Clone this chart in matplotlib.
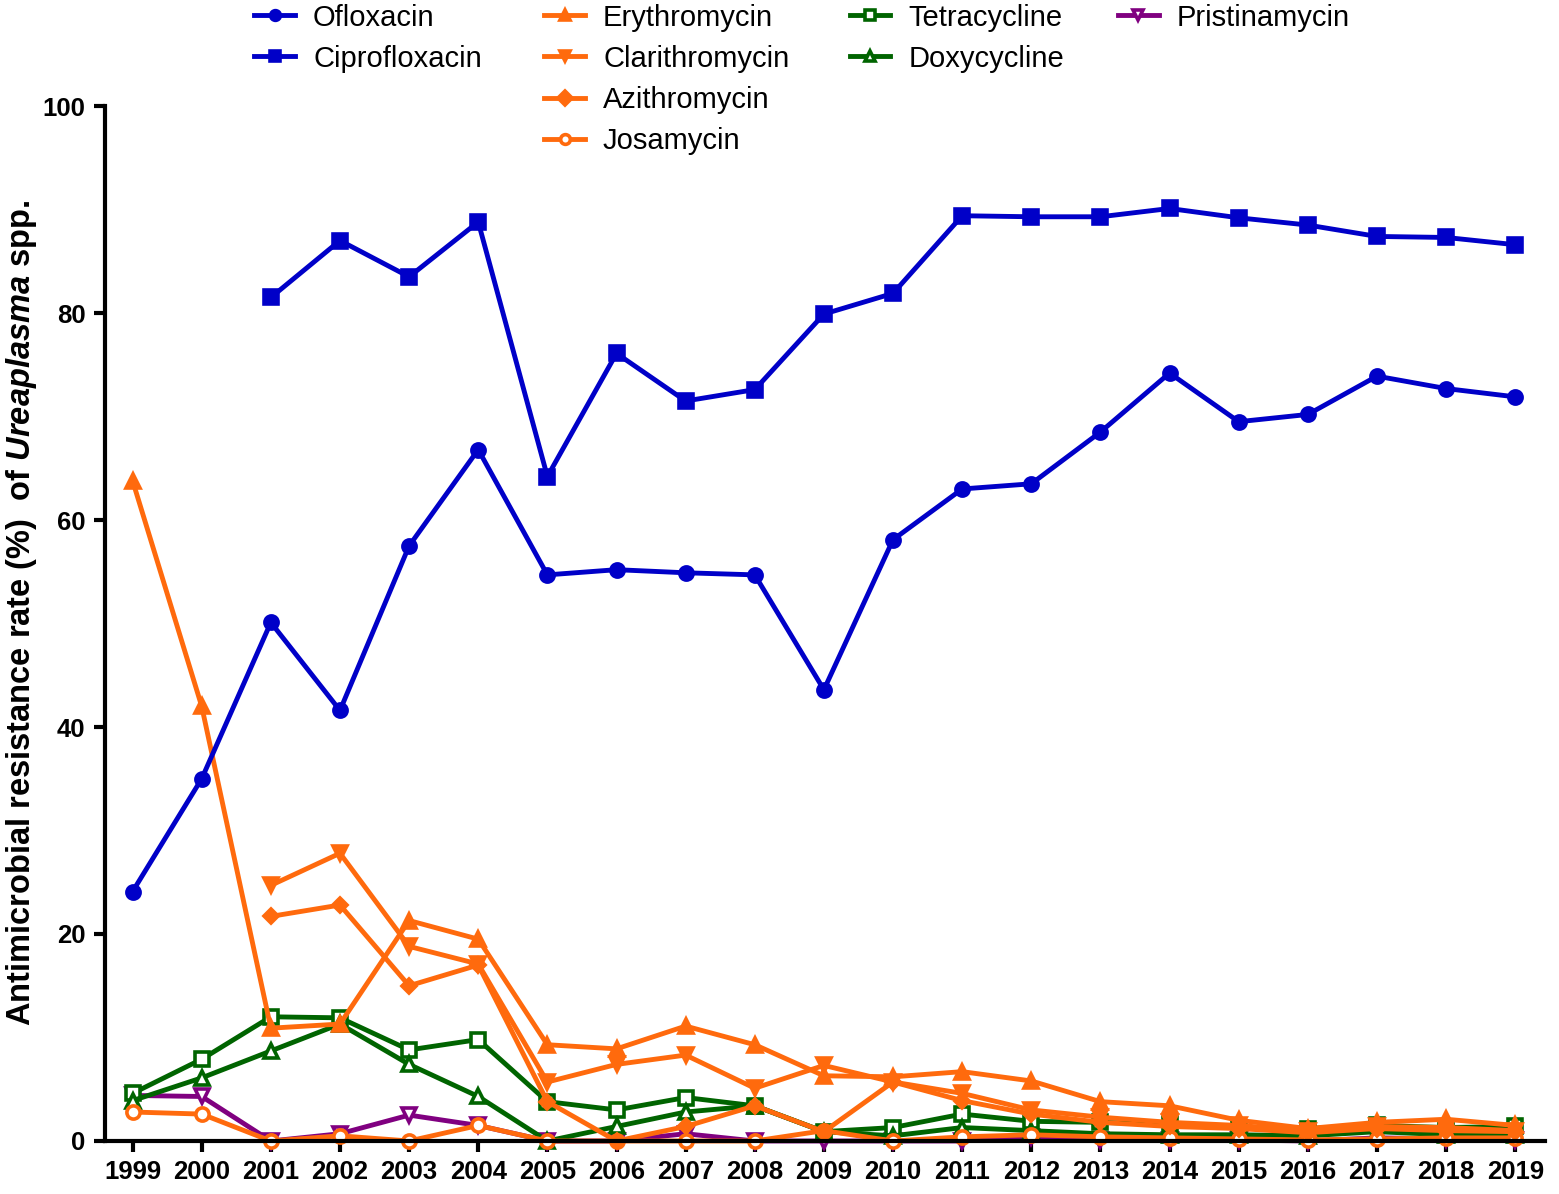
import matplotlib.pyplot as plt
import numpy as np

years = list(range(1999, 2020))

# Fluoroquinolones
ofloxacin = [24.1, 35.0, 50.1, 41.6, 57.5, 66.8, 54.7, 55.2, 54.9, 54.7, 43.6,
             58.1, 63.0, 63.5, 68.5, 74.2, 69.5, 70.2, 73.9, 72.7, 71.9]
ciprofloxacin = [np.nan, np.nan, 81.5, 87.0, 83.5, 88.8, 64.2, 76.1, 71.5, 72.6, 79.9,
                 81.9, 89.4, 89.3, 89.3, 90.1, 89.2, 88.5, 87.4, 87.3, 86.6]

# Macrolides
erythromycin = [63.8, 42.0, 10.9, 11.3, 21.3, 19.5, 9.3, 8.9, 11.1, 9.3, 6.3,
                6.2, 6.7, 5.8, 3.8, 3.4, 2.0, 1.2, 1.8, 2.1, 1.5]
clarithromycin = [np.nan, np.nan, 24.7, 27.8, 18.8, 17.1, 5.7, 7.4, 8.3, 5.1, 7.3,
                  5.7, 4.6, 3.0, 2.3, 1.8, 1.5, 1.0, 1.4, 1.3, 1.0]
azithromycin = [np.nan, np.nan, 21.7, 22.8, 15.0, 17.0, 3.8, 0.0, 1.4, 3.4, 0.9,
                5.7, 3.9, 2.6, 1.8, 1.4, 1.2, 0.8, 1.2, 1.0, 0.9]
josamycin = [2.8, 2.6, 0.0, 0.5, 0.0, 1.5, 0.0, 0.0, 0.0, 0.0, 1.0,
             0.0, 0.4, 0.6, 0.4, 0.3, 0.2, 0.1, 0.2, 0.3, 0.3]

# Tetracyclines
tetracycline = [4.6, 7.9, 12.0, 11.9, 8.8, 9.8, 3.8, 3.0, 4.2, 3.4, 0.9,
                1.3, 2.6, 1.9, 1.8, 1.6, 1.3, 1.2, 1.5, 1.3, 1.4]
doxycycline = [3.9, 6.1, 8.7, 11.3, 7.4, 4.3, 0.0, 1.4, 2.8, 3.4, 0.9,
               0.5, 1.3, 1.0, 0.7, 0.6, 0.6, 0.5, 0.9, 0.6, 0.6]

# Streptogramin
pristinamycin = [4.4, 4.3, 0.0, 0.7, 2.5, 1.5, 0.0, 0.0, 0.7, 0.0, 0.0,
                 0.0, 0.0, 0.4, 0.1, 0.1, 0.1, 0.0, 0.3, 0.2, 0.1]

blue = "#0000C8"
orange = "#FF6A0D"
green = "#006400"
purple = "#800080"

plt.rcParams["font.family"] = ["Liberation Sans", "DejaVu Sans"]
plt.rcParams["mathtext.fontset"] = "custom"
plt.rcParams["mathtext.it"] = "Liberation Sans:italic:bold"
plt.rcParams["mathtext.rm"] = "Liberation Sans:bold"

fig = plt.figure(figsize=(15.59, 11.94), dpi=100)
ax = fig.add_axes([0.0673, 0.0444, 0.9237, 0.8668])

lw = 3.5
ms = 9.5

series = [
    ("Ofloxacin", ofloxacin, blue, "o", True),
    ("Ciprofloxacin", ciprofloxacin, blue, "s", True),
    ("Erythromycin", erythromycin, orange, "^", True),
    ("Clarithromycin", clarithromycin, orange, "v", True),
    ("Azithromycin", azithromycin, orange, "D", True),
    ("Josamycin", josamycin, orange, "o", False),
    ("Tetracycline", tetracycline, green, "s", False),
    ("Doxycycline", doxycycline, green, "^", False),
    ("Pristinamycin", pristinamycin, purple, "v", False),
]

handles = {}
draw_order = [8, 6, 7, 5, 4, 3, 2, 0, 1]
for i in draw_order:
    name, vals, col, mk, filled = series[i]
    size = ms - 2.5 if mk == "D" else ms
    h, = ax.plot(years, vals, color=col, lw=lw, marker=mk, markersize=size,
                 markerfacecolor=col if filled else "white",
                 markeredgecolor=col, markeredgewidth=2.6,
                 clip_on=False, label=name)
    handles[name] = h

ax.set_xlim(1998.6, 2019.43)
ax.set_ylim(0, 100)
ax.set_xticks(years)
ax.set_yticks([0, 20, 40, 60, 80, 100])
ax.spines["top"].set_visible(False)
ax.spines["right"].set_visible(False)
ax.spines["left"].set_linewidth(3)
ax.spines["bottom"].set_linewidth(3)
ax.tick_params(direction="out", length=8, width=3, labelsize=18.5, pad=6)
for lab in ax.get_xticklabels() + ax.get_yticklabels():
    lab.set_fontweight("bold")

ax.set_ylabel(r"Antimicrobial resistance rate (%)  of $\it{Ureaplasma}$ spp.",
              fontsize=23.5, fontweight="bold")
ax.yaxis.set_label_coords(-0.046, 0.51)

# legend in four columns of unequal length
groups = [
    (["Ofloxacin", "Ciprofloxacin"], 0.163),
    (["Erythromycin", "Clarithromycin", "Azithromycin", "Josamycin"], 0.349),
    (["Tetracycline", "Doxycycline"], 0.545),
    (["Pristinamycin"], 0.717),
]
for names, xpos in groups:
    leg = fig.legend([handles[n] for n in names], names, loc="upper left",
                     bbox_to_anchor=(xpos, 0.997), frameon=False, fontsize=21,
                     handlelength=1.4, handletextpad=0.62, labelspacing=0.45,
                     borderpad=0, borderaxespad=0)
    for ln in leg.get_lines():
        ln.set_linewidth(3.5)
        ln.set_markersize(7)

fig.savefig("out.png", dpi=100)
